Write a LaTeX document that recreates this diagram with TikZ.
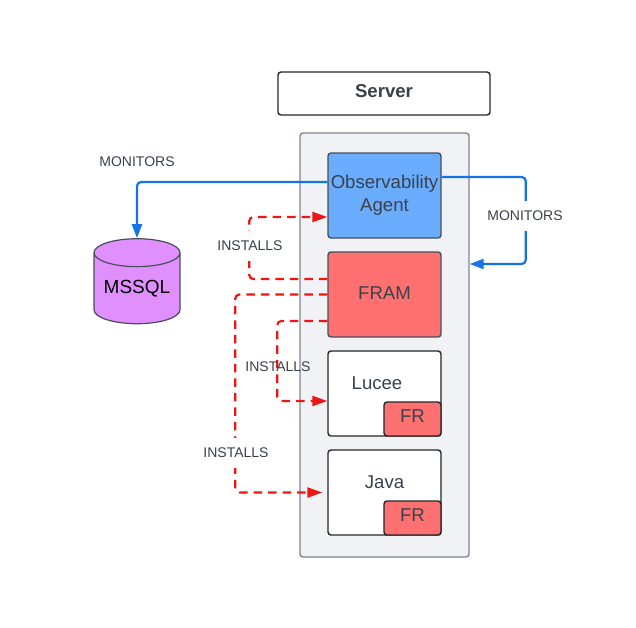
\documentclass[tikz,border=0pt]{standalone}
\usepackage{fontspec}
\setmainfont{Liberation Sans}
\usetikzlibrary{arrows.meta,shapes.geometric}
\definecolor{inktext}{HTML}{3A414A}
\definecolor{edgegray}{HTML}{4A4F57}
\definecolor{panelfill}{HTML}{F1F2F5}
\definecolor{panelline}{HTML}{7F8591}
\definecolor{agentblue}{HTML}{6AADFF}
\definecolor{framred}{HTML}{FF7070}
\definecolor{dbpurple}{HTML}{E08FFF}
\definecolor{monitorblue}{HTML}{1473E6}
\definecolor{installred}{HTML}{EE1515}
\begin{document}
\begin{tikzpicture}[
        x=1pt, y=-1pt,
        box/.style={draw=edgegray, line width=1.4pt, rounded corners=3pt, text=inktext, align=center, font=\fontsize{18.6}{23}\selectfont, inner sep=0pt, minimum width=113pt, minimum height=85pt},
        chip/.style={box, fill=framred, minimum width=57pt, minimum height=34pt, draw=black!85, text depth=5pt},
        tag/.style={text=inktext, font=\fontsize{14}{16}\selectfont, inner sep=0pt},
        gaptag/.style={tag, fill=white, minimum height=30pt},
        monitors/.style={draw=monitorblue, line width=2.2pt, rounded corners=4pt, -{Triangle[length=14pt,width=10pt]}},
        installs/.style={draw=installred, line width=2.2pt, dash pattern=on 8.5pt off 6pt, rounded corners=4pt, -{Triangle[length=15pt,width=10pt]}}
    ]
    \useasboundingbox (0,0) rectangle (636,627);

    \node[draw=panelline, fill=panelfill, line width=1.4pt, rounded corners=3pt, inner sep=0pt, minimum width=169pt, minimum height=424pt] (server) at (384.5,345) {};
    \node[box, draw=black!85, minimum width=212pt, minimum height=43pt, text depth=4pt, font=\fontsize{18.6}{22}\selectfont\bfseries] (title) at (384,93.5) {Server};

    \node[box, fill=agentblue] (agent) at (384.5,195.5) {Observability\\Agent};
    \node[box, fill=framred, text depth=2pt] (fram) at (384.5,294.5) {FRAM};
    \node[box, draw=black!85, fill=white] (lucee) at (384.5,393.5) {};
    \node[box, draw=black!85, fill=white] (java) at (384.5,492.5) {};
    \node[text=inktext, font=\fontsize{18.6}{22}\selectfont, inner sep=0pt] (luceetext) at (377,383) {Lucee};
    \node[text=inktext, font=\fontsize{18.6}{22}\selectfont, inner sep=0pt] (javatext) at (384.5,482) {Java};
    \node[chip] (luceefr) at (412.5,419) {FR};
    \node[chip] (javafr) at (412.5,518) {FR};

    \node[cylinder, shape border rotate=90, aspect=0.42, draw=edgegray, fill=dbpurple, line width=1.2pt, inner sep=0pt, minimum width=86pt, minimum height=85pt, text=black, font=\fontsize{19}{22}\selectfont] (mssql) at (137,288.5) {MSSQL};

    % blue links
    \draw[monitors] ([yshift=13.5pt]agent.west) -| (mssql.north);
    \draw[monitors] ([yshift=18.5pt]agent.east) -- ++(84,0) -- ++(0,87) -- ([yshift=81pt]server.east);

    % red links
    \draw[installs] ([yshift=15.5pt]fram.west) -- ++(-78,0) -- ++(0,-62) -- ([yshift=-21.5pt]agent.west);
    \draw[installs] (fram.west) -- ++(-92,0) -- ++(0,198) -- ([xshift=-5pt,yshift=0pt]java.west);
    \draw[installs] ([yshift=-26.5pt]fram.west) -- ++(-50,0) -- ++(0,80) -- ([yshift=-7.5pt]lucee.west);

    \node[tag] (monitorsleft) at (137,161.5) {MONITORS};
    \node[gaptag] (monitorsright) at (525,216) {MONITORS};
    \node[gaptag] (installstop) at (250,245.5) {INSTALLS};
    \node[tag] (installsmid) at (278,366.5) {INSTALLS};
    \node[gaptag] (installsbottom) at (236,452.5) {INSTALLS};
\end{tikzpicture}
\end{document}
